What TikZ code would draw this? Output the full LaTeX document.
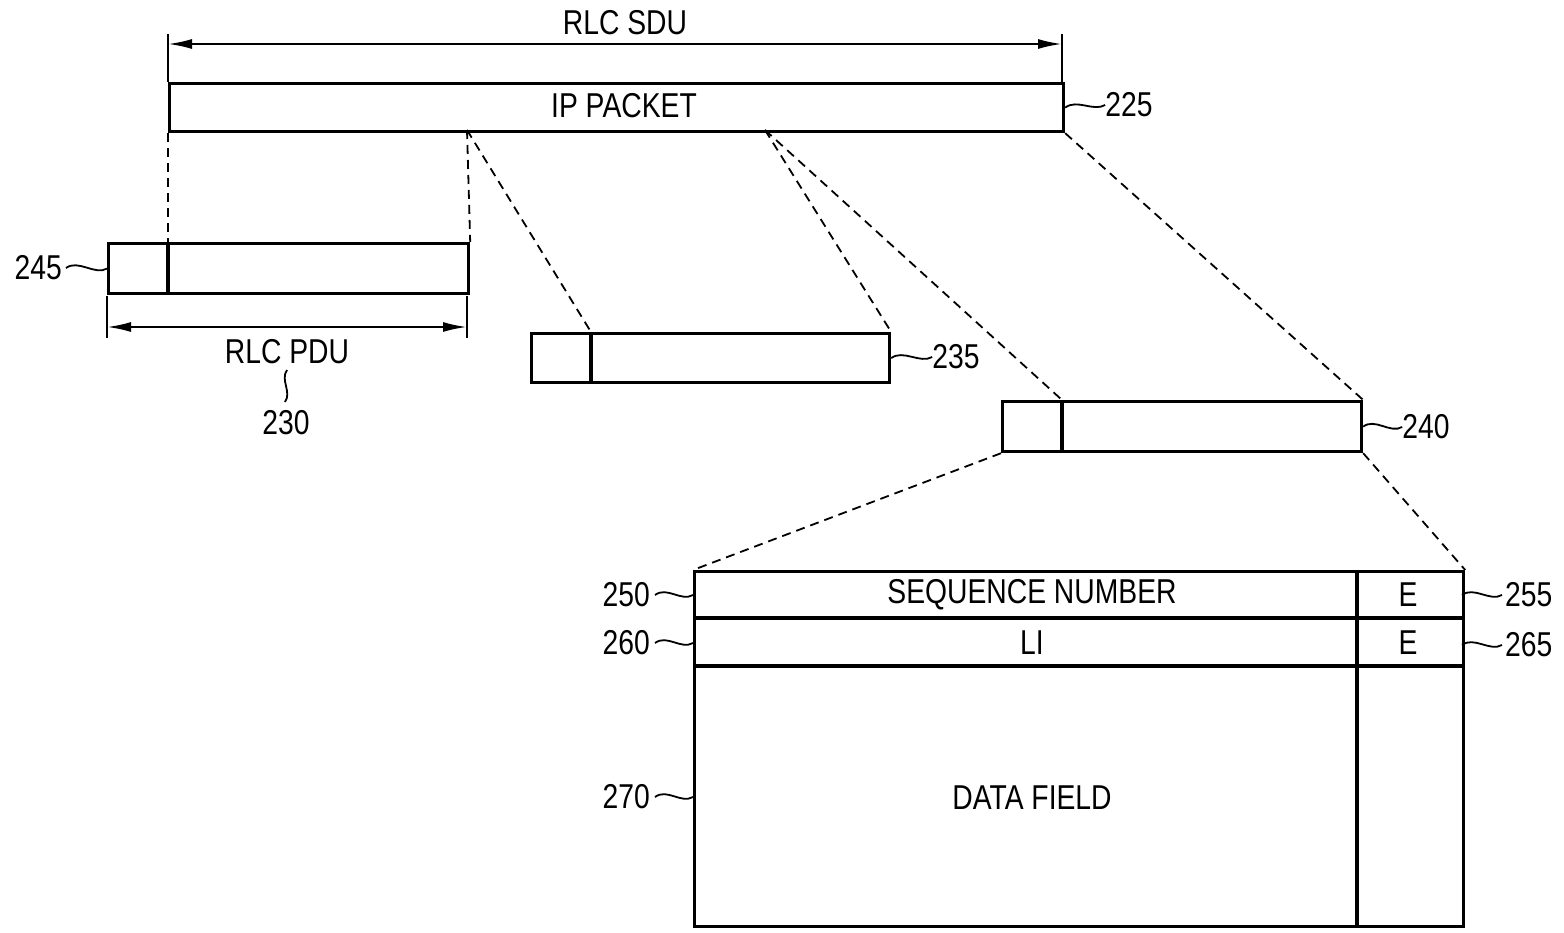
\documentclass[tikz,border=0pt]{standalone}
\usepackage{fontspec}
\setmainfont{Liberation Sans}[FakeStretch=0.82]
\usetikzlibrary{arrows.meta}
\begin{document}
\begin{tikzpicture}[x=1pt,y=-1pt,
  box/.style={draw, line width=3.2pt, rectangle, inner sep=0pt, anchor=north west},
  txt/.style={font=\fontsize{34.5}{38}\selectfont, inner sep=0pt},
  dashline/.style={line width=1.8pt, dash pattern=on 9pt off 6pt},
  sq/.style={line width=1.8pt},
  tick/.style={line width=1.8pt},
  dimarrow/.style={line width=2.2pt, {Latex[length=24pt,width=10pt]}-{Latex[length=24pt,width=10pt]}},
  sep/.style={line width=3.2pt}]
\useasboundingbox (0,0) rectangle (1564,932);

% boxes
\node[box, minimum width=894pt, minimum height=48pt] (ip) at (168,82) {};
\node[box, minimum width=360pt, minimum height=50pt] (p1) at (107,242) {};
\node[box, minimum width=358pt, minimum height=49pt] (p2) at (530,332) {};
\node[box, minimum width=359pt, minimum height=50pt] (p3) at (1001,400) {};
\node[box, minimum width=769pt, minimum height=355pt] (big) at (693,570) {};

% named points
\coordinate (p1dt) at (168,242); \coordinate (p1db) at (168,292);
\coordinate (p2dt) at (591,332); \coordinate (p2db) at (591,381);
\coordinate (p3dt) at (1062,400); \coordinate (p3db) at (1062,450);
\coordinate (ipA) at (467,130); \coordinate (ipB) at (765,130);
\coordinate (r1l) at (693,618); \coordinate (r1r) at (1462,618);
\coordinate (r2l) at (693,666); \coordinate (r2r) at (1462,666);
\coordinate (vt) at (1357,570); \coordinate (vb) at (1357,925);

% dividers
\draw[sep] (p1dt) -- (p1db);
\draw[sep] (p2dt) -- (p2db);
\draw[sep] (p3dt) -- (p3db);
\draw[sep] (r1l) -- (r1r);
\draw[sep] (r2l) -- (r2r);
\draw[sep] (vt) -- (vb);

% texts
\node[txt] (tip) at (624,106) {IP PACKET};
\node[txt] (tseq) at (1032,595) {SEQUENCE NUMBER};
\node[txt] (tli) at (1032,643) {LI};
\node[txt] (te1) at (1408,595) {E};
\node[txt] (te2) at (1408,643) {E};
\node[txt] (tdf) at (1032,798) {DATA FIELD};

% dashed connectors
\draw[dashline] (ip.south west) -- (p1dt);
\draw[dashline] (ipA) -- (p1.north east);
\draw[dashline] (ipA) -- (p2dt);
\draw[dashline] (ipB) -- (p2.north east);
\draw[dashline] (ipB) -- (p3dt);
\draw[dashline] (ip.south east) -- (p3.north east);
\draw[dashline] (p3.south west) -- (big.north west);
\draw[dashline] (p3.south east) -- (big.north east);

% RLC SDU dimension
\coordinate (s1t) at (168,34); \coordinate (s1b) at (168,82);
\coordinate (s2t) at (1062,34); \coordinate (s2b) at (1062,82);
\draw[tick] (s1t) -- (s1b);
\draw[tick] (s2t) -- (s2b);
\coordinate (sa) at (168,44); \coordinate (sb) at (1062,44);
\draw[dimarrow] (sa) -- (sb);
\node[txt] (tsdu) at (625,23) {RLC SDU};

% RLC PDU dimension
\coordinate (d1t) at (107,296); \coordinate (d1b) at (107,338);
\coordinate (d2t) at (467,296); \coordinate (d2b) at (467,338);
\draw[tick] (d1t) -- (d1b);
\draw[tick] (d2t) -- (d2b);
\coordinate (da) at (107,327); \coordinate (db) at (467,327);
\draw[dimarrow] (da) -- (db);
\node[txt] (tpdu) at (287,352) {RLC PDU};
\node[txt] (l230) at (286,423) {230};
\draw[sq] (287,370) .. controls +(-7,10) and +(7,-10) .. (285,402);

% reference labels
\node[txt] (l225) at (1129,105) {225};
\draw[sq] (ip.east) .. controls +(12,-9) and +(-12,7) .. (l225.west);
\node[txt, anchor=east] (l245) at (62,268) {245};
\draw[sq] (l245.east) ++(4,0) .. controls +(12,-9) and +(-12,7) .. (p1.west);
\node[txt] (l235) at (956,357) {235};
\draw[sq] (p2.east) .. controls +(12,-9) and +(-12,7) .. (l235.west);
\node[txt] (l240) at (1426,427) {240};
\draw[sq] (p3.east) .. controls +(12,-9) and +(-12,7) .. (l240.west);

\coordinate (b250) at (693,595); \coordinate (b260) at (693,643); \coordinate (b270) at (693,797);
\coordinate (b255) at (1462,595); \coordinate (b265) at (1462,645);
\node[txt, anchor=east] (l250) at (650,595) {250};
\node[txt, anchor=east] (l260) at (650,643) {260};
\node[txt, anchor=east] (l270) at (650,797) {270};
\draw[sq] (l250.east) ++(5,0) .. controls +(12,-9) and +(-12,7) .. (b250);
\draw[sq] (l260.east) ++(5,0) .. controls +(12,-9) and +(-12,7) .. (b260);
\draw[sq] (l270.east) ++(5,0) .. controls +(12,-9) and +(-12,7) .. (b270);
\node[txt, anchor=west] (l255) at (1505,595) {255};
\node[txt, anchor=west] (l265) at (1505,645) {265};
\draw[sq] (b255) .. controls +(12,-9) and +(-12,7) .. ([xshift=-3pt]l255.west);
\draw[sq] (b265) .. controls +(12,-9) and +(-12,7) .. ([xshift=-3pt]l265.west);
\end{tikzpicture}
\end{document}
